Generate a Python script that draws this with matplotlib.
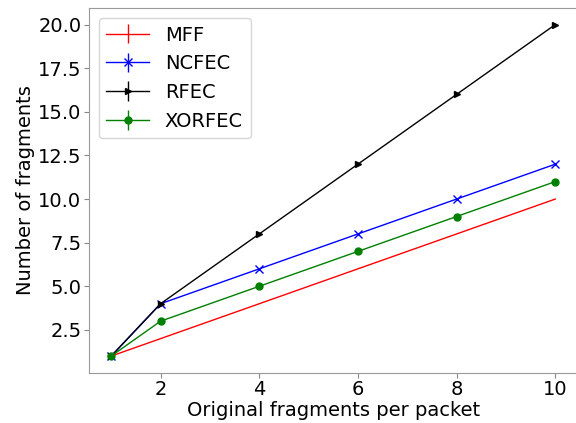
import matplotlib
matplotlib.use("Agg")
import matplotlib.pyplot as plt

x = [1, 2, 4, 6, 8, 10]
mff = [1, 2, 4, 6, 8, 10]
ncfec = [1, 4, 6, 8, 10, 12]
rfec = [1, 4, 8, 12, 16, 20]
xorfec = [1, 3, 5, 7, 9, 11]
zeros = [0] * len(x)

plt.rcParams['font.size'] = 14

fig = plt.figure(figsize=(5.76, 4.23), dpi=100)
ax = fig.add_axes([0.1545, 0.119, 0.848, 0.862])

ax.errorbar(x, mff, yerr=zeros, color='red', lw=1, label='MFF')
ax.errorbar(x, ncfec, yerr=zeros, color='blue', marker='x', ms=6, lw=1, label='NCFEC')
ax.errorbar(x, rfec, yerr=zeros, color='black', marker='>', ms=5, lw=1, label='RFEC')
ax.errorbar(x, xorfec, yerr=zeros, color='green', marker='o', ms=5, lw=1, label='XORFEC')

ax.set_xlabel('Original fragments per packet', fontsize=14, labelpad=1)
ax.set_ylabel('Number of fragments', fontsize=14, labelpad=2)
ax.tick_params(labelsize=14, color='#888888', pad=2)
for s in ax.spines.values():
    s.set_color('#999999')
ax.legend(loc='upper left', fontsize=14, handlelength=2.2, borderaxespad=0.5)

fig.savefig('out.png')
